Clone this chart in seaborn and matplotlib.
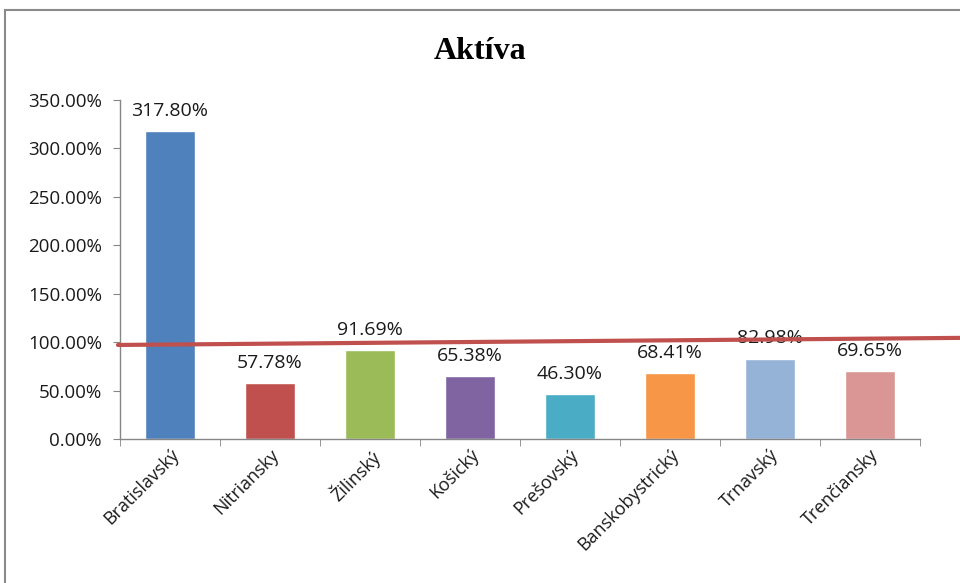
import numpy as np
import pandas as pd
import seaborn as sns
import matplotlib.pyplot as plt
from matplotlib.patches import Rectangle
from matplotlib.ticker import FuncFormatter, FixedLocator

# data
regions = ["Bratislavský", "Nitriansky", "Žilinský", "Košický", "Prešovský",
           "Banskobystrický", "Trnavský", "Trenčiansky"]
values = [317.80, 57.78, 91.69, 65.38, 46.30, 68.41, 82.98, 69.65]
bar_colors = ["#4F81BD", "#C0504D", "#9BBB59", "#8064A2", "#4BACC6",
              "#F79646", "#95B3D7", "#D99694"]
# red reference line (start / end level in %)
ref_line = [97.0, 104.3]

def main():
    sns.set_style("white")
    plt.rcParams["font.family"] = ["Open Sans", "DejaVu Sans"]
    plt.rcParams["text.color"] = "#1a1a1a"
    plt.rcParams["xtick.color"] = "#1a1a1a"
    plt.rcParams["ytick.color"] = "#1a1a1a"

    df = pd.DataFrame({"region": regions, "value": values})

    fig = plt.figure(figsize=(9.6, 5.83), dpi=100)
    ax = fig.add_axes([0.125, 0.247, 0.833, 0.582])

    sns.barplot(data=df, x="region", y="value", hue="region", palette=bar_colors,
                width=0.5, legend=False, saturation=1, ax=ax)

    # data labels
    for i, v in enumerate(values):
        ax.annotate(f"{v:.2f}%", (i, v), xytext=(0, 8), textcoords="offset points",
                    ha="center", va="bottom", fontsize=14)

    ax.set_xlim(-0.5, len(regions) - 0.5)
    ax.set_ylim(0, 350)
    ax.set_yticks(np.arange(0, 351, 50))
    ax.yaxis.set_major_formatter(FuncFormatter(lambda v, p: f"{v:.2f}%"))
    ax.tick_params(axis="y", labelsize=13.5, length=5, color="#868686", left=True, pad=8)

    # excel-style category ticks between bars
    ax.xaxis.set_minor_locator(FixedLocator(np.arange(-0.5, len(regions), 1)))
    ax.tick_params(axis="x", which="minor", length=5, color="#868686", bottom=True)
    ax.tick_params(axis="x", which="major", length=0, labelsize=13, pad=5)
    plt.setp(ax.get_xticklabels(), rotation=45, ha="right", rotation_mode="anchor")

    ax.set_xlabel("")
    ax.set_ylabel("")
    for s in ["top", "right"]:
        ax.spines[s].set_visible(False)
    for s in ["left", "bottom"]:
        ax.spines[s].set_color("#868686")
        ax.spines[s].set_linewidth(1)

    # red line running past the plot area
    ax.plot([-0.52, 7.9], ref_line, color="#C0504D", lw=3, clip_on=False, zorder=5)

    fig.text(0.5, 0.912, "Aktíva", ha="center", va="center", fontsize=23,
             fontweight="bold", color="black",
             family=["Liberation Serif", "DejaVu Serif"])

    # chart frame (cut off on right and bottom)
    fig.patches.append(Rectangle((5 / 960, -0.1), 1.2, 1 - 10 / 583 + 0.1,
                                 transform=fig.transFigure, fill=False,
                                 edgecolor="#8a8a8a", lw=1.5))

    fig.savefig("out.png", dpi=100)

if __name__ == "__main__":
    main()
